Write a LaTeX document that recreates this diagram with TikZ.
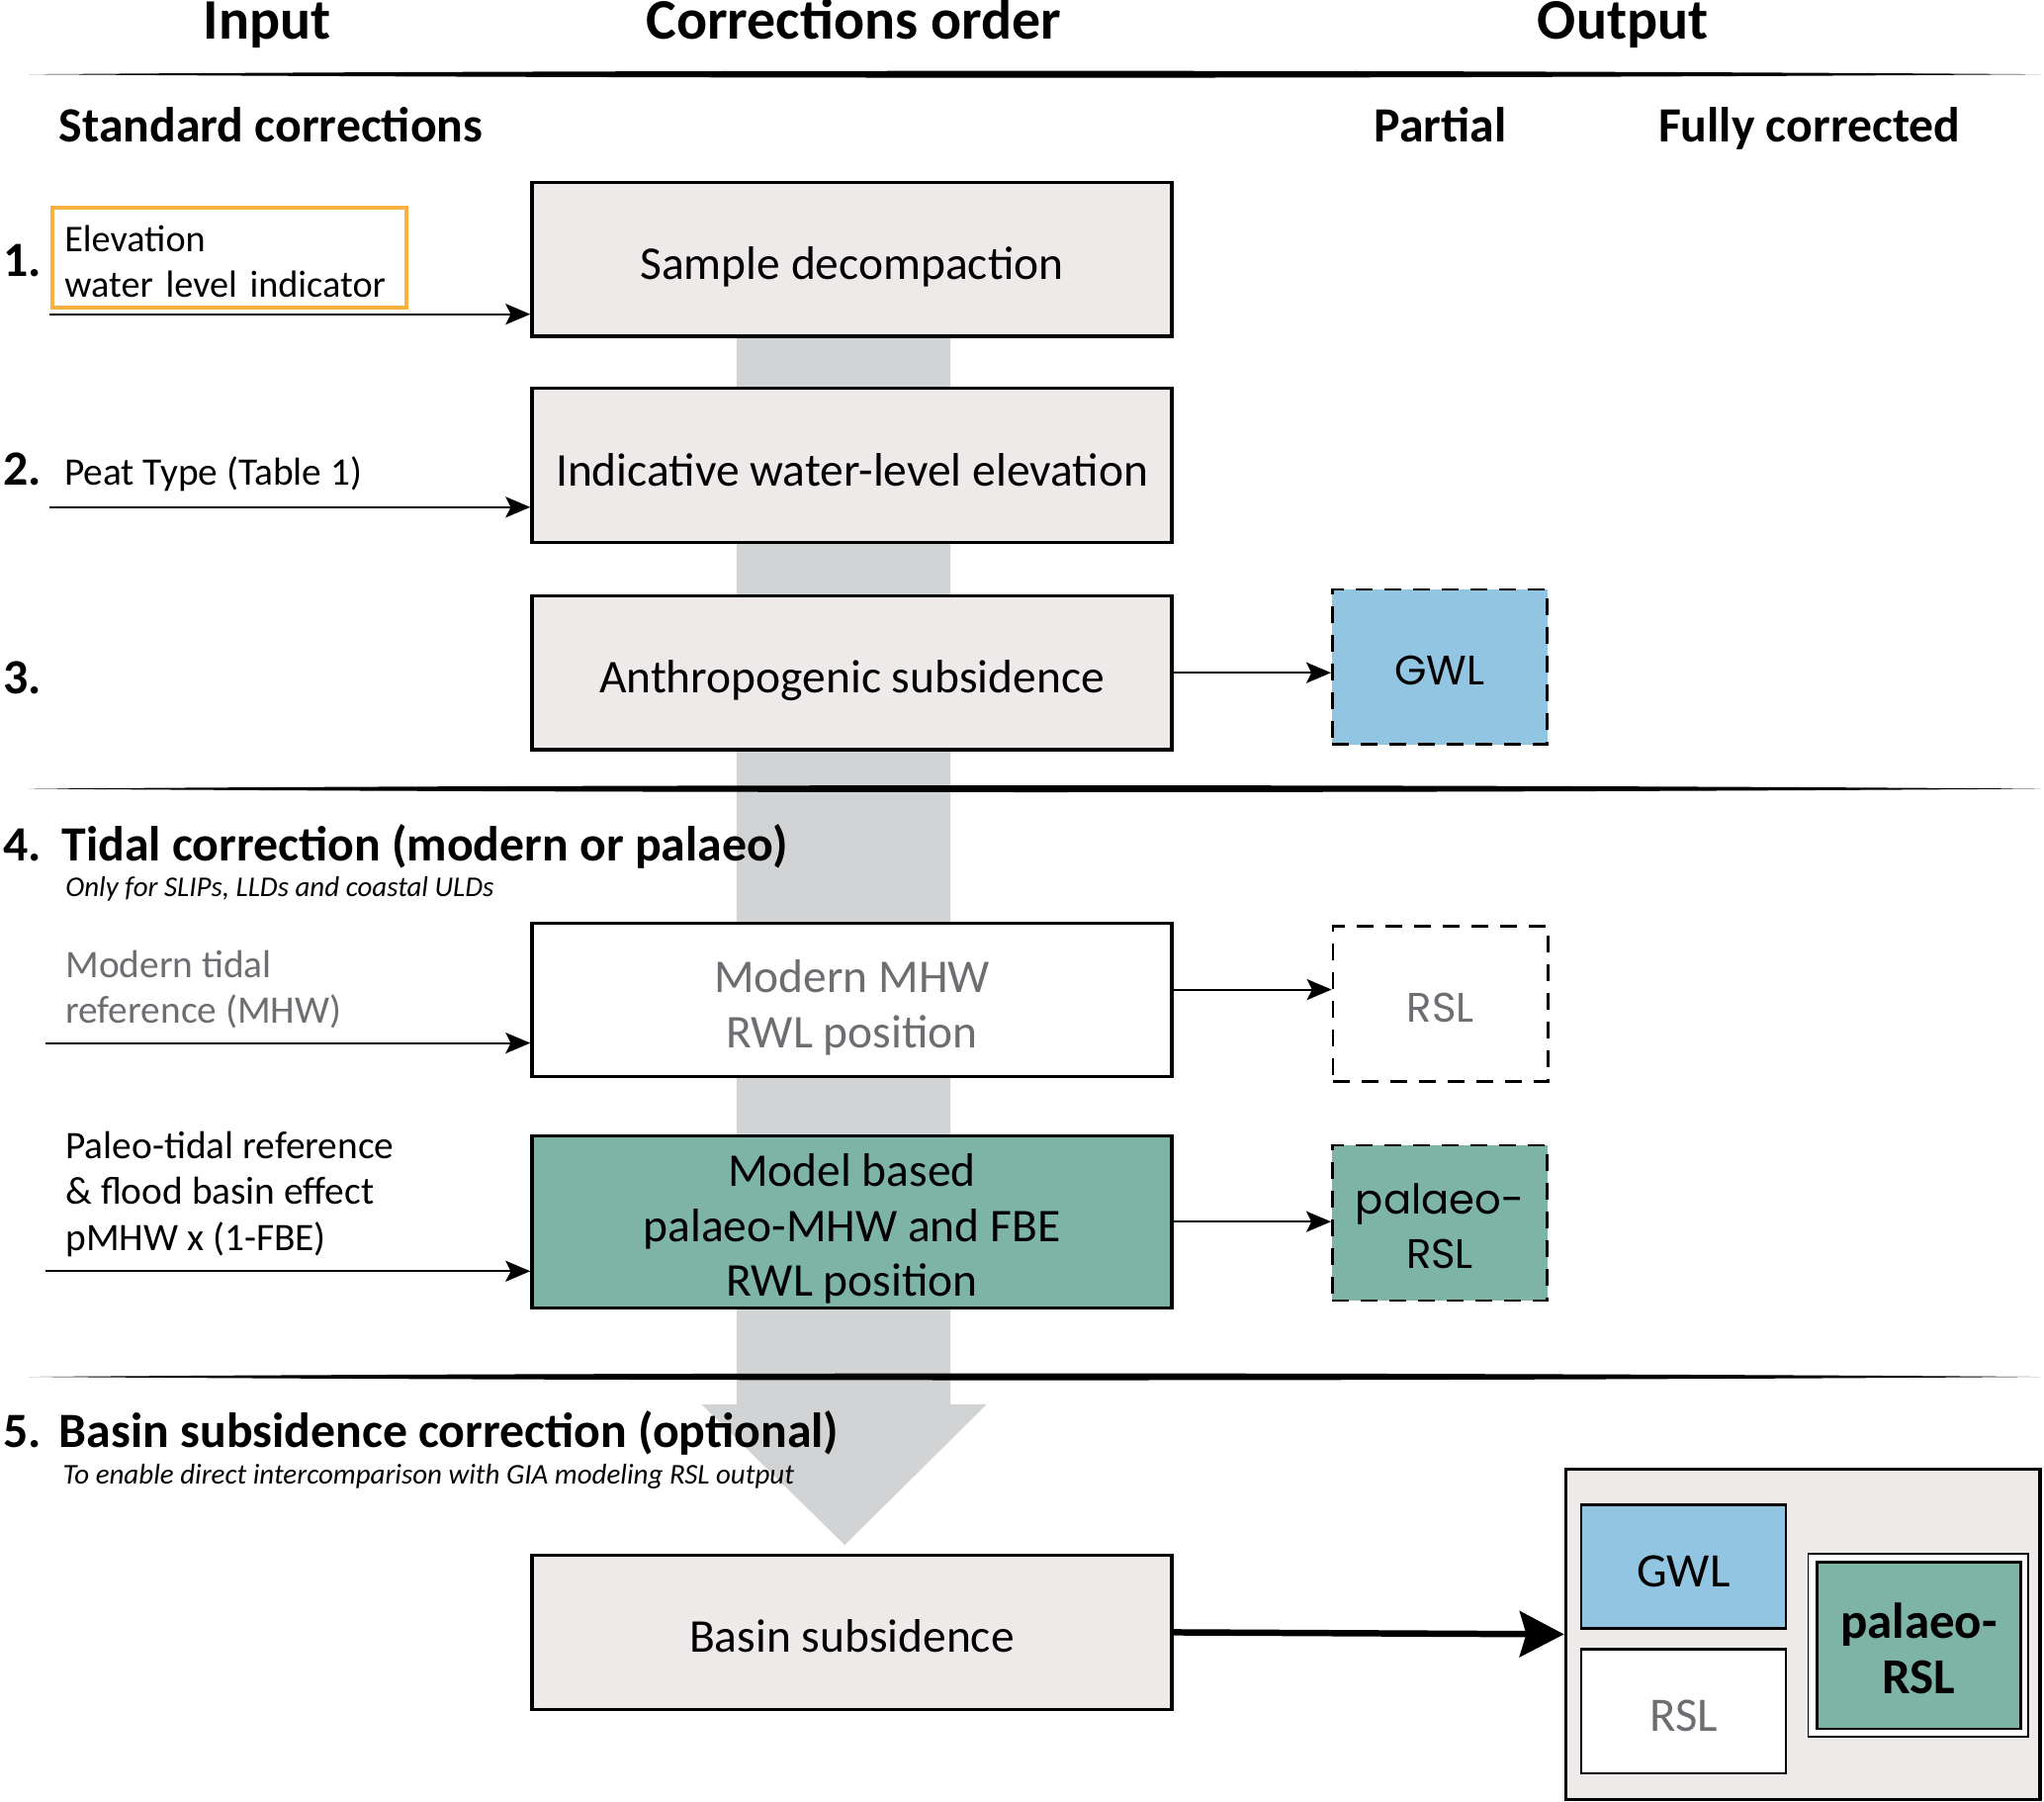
\documentclass[tikz,border=0pt]{standalone}
\usepackage{fontspec}
\setmainfont{Carlito}
\newfontfamily\geofont{Poppins}
\usepackage{xcolor}
\usetikzlibrary{arrows.meta}

\definecolor{boxgrey}{HTML}{EDEAE9}
\definecolor{shaftgrey}{HTML}{D1D3D4}
\definecolor{gwlblue}{HTML}{91C5E1}
\definecolor{palgreen}{HTML}{7DB4A6}
\definecolor{elevorange}{HTML}{FBB040}
\definecolor{softtext}{HTML}{6D6E71}

\tikzset{
  corrbox/.style={draw, line width=1.4pt, fill=boxgrey, minimum width=9.82cm,
    minimum height=2.36cm, inner sep=0pt, align=center, text height=0.62cm, text depth=0cm,
    font=\fontsize{20.5}{24}\selectfont},
  partbox/.style={draw, line width=1.1pt, dash pattern=on 0.26cm off 0.18cm,
    minimum width=3.3cm, minimum height=2.38cm, inner sep=0pt, align=center,
    text height=0.55cm, text depth=0cm, font=\geofont\fontsize{18}{24}\selectfont},
  fullbox/.style={draw, line width=1.1pt, minimum width=3.14cm, minimum height=1.9cm,
    inner sep=0pt, text height=0.62cm, text depth=0cm, font=\fontsize{21}{24}\selectfont},
  colhead/.style={anchor=base, font=\bfseries\fontsize{25}{30}\selectfont},
  subhead/.style={anchor=base west, inner sep=0pt, font=\bfseries\fontsize{21.5}{26}\selectfont},
  stepnum/.style={anchor=base west, inner sep=0pt, font=\bfseries\fontsize{21.5}{26}\selectfont},
  intext/.style={anchor=base west, inner sep=0pt, align=left, font=\fontsize{17}{20}\selectfont},
  note/.style={anchor=base west, inner sep=0pt, font=\itshape\fontsize{12.5}{15}\selectfont},
  inarrow/.style={->, line width=0.9pt},
}

\begin{document}
\begin{tikzpicture}[x=0.02cm, y=-0.02cm,
    >={Stealth[length=0.38cm, width=0.32cm, inset=0.08cm]}]
  \useasboundingbox (0,0) rectangle (1568,1382);

  % column headings
  \node[colhead] (hin)  at (205,30)  {Input};
  \node[colhead] (hord) at (655,30)  {Corrections order};
  \node[colhead] (hout) at (1245,30) {Output};

  \node[subhead] (hstd) at (45,109) {Standard corrections};
  \node[colhead, font=\bfseries\fontsize{21.5}{26}\selectfont] (hpart) at (1105,109) {Partial};
  \node[colhead, font=\bfseries\fontsize{21.5}{26}\selectfont] (hfull) at (1388,109) {Fully corrected};

  % big grey arrow behind the boxes
  \fill[shaftgrey] (565,200) -- (729,200) -- (729,1077) -- (757,1077)
                   -- (648,1185) -- (538,1077) -- (565,1077) -- cycle;

  % rough separators
  \foreach \y in {57,605,1056}
    \fill (22,\y) .. controls (500,\y-3.5) and (1100,\y-3.5) .. (1565,\y)
                  .. controls (1100,\y+3.5) and (500,\y+3.5) .. cycle;

  % corrections
  \node[corrbox] (s1) at (653.5,199)  {Sample decompaction};
  \node[corrbox] (s2) at (653.5,357)  {Indicative water-level elevation};
  \node[corrbox] (s3) at (653.5,516)  {Anthropogenic subsidence};
  \node[corrbox, fill=white, text=softtext, text height=1.46cm] (s4) at (653.5,767)
    {Modern MHW\\RWL position};
  \node[corrbox, fill=palgreen, minimum height=2.64cm, text height=2.3cm] (s5) at (653.5,937)
    {Model based\\palaeo-MHW and FBE\\RWL position};
  \node[corrbox] (s6) at (653.5,1252) {Basin subsidence};

  % step numbers
  \node[stepnum] (n1) at (2,212)  {1.};
  \node[stepnum] (n2) at (2,372)  {2.};
  \node[stepnum] (n3) at (2,532)  {3.};
  \node[stepnum] (n4) at (2,660)  {4.};
  \node[stepnum] (n5) at (2,1110) {5.};

  % inputs
  \node[draw=elevorange, line width=1.7pt, minimum width=5.44cm, minimum height=1.54cm,
        text width=5.06cm, inner xsep=0.19cm, inner ysep=0pt, align=left,
        text height=0.53cm,
        font=\fontsize{16.5}{20}\selectfont] (elev) at (176,197.5)
        {Elevation\\water level indicator};
  \node[intext] (peat) at (49,372) {Peat Type (Table 1)};
  \node[subhead] (tidal) at (47,660) {Tidal correction (modern or palaeo)};
  \node[note] (tidalnote) at (50,688) {Only for SLIPs, LLDs and coastal ULDs};
  \node[intext, text=softtext] (mod) at (50,785) {Modern tidal\\reference (MHW)};
  \node[intext] (paleo) at (50,959) {Paleo-tidal reference\\\& flood basin effect\\pMHW x (1-FBE)};
  \node[subhead] (basin) at (45,1110) {Basin subsidence correction (optional)};
  \node[note] (basinnote) at (48,1138) {To enable direct intercomparison with GIA modeling RSL output};

  \coordinate (in1) at (38,241);
  \coordinate (in2) at (38,389);
  \coordinate (in4) at (35,800);
  \coordinate (in5) at (35,975);
  \draw[inarrow] (in1) -- (in1 -| s1.west);
  \draw[inarrow] (in2) -- (in2 -| s2.west);
  \draw[inarrow] (in4) -- (in4 -| s4.west);
  \draw[inarrow] (in5) -- (in5 -| s5.west);

  % partial outputs
  \node[partbox, fill=gwlblue] (gwl) at (1104.5,511.5) {GWL};
  \node[partbox, text=softtext, fill=white] (rsl) at (1105,770) {RSL};
  \node[partbox, fill=palgreen, text height=1.4cm] (prsl) at (1104.5,938) {palaeo-\\RSL};

  \draw[inarrow] (s3.east) -- (s3.east -| gwl.west);
  \draw[inarrow] ([yshift=0.16cm]s4.east) -- ([yshift=0.16cm]s4.east -| rsl.west);
  \draw[inarrow] (s5.east) -- (s5.east -| prsl.west);

  % fully corrected
  \node[draw, line width=1.4pt, fill=boxgrey, minimum width=7.28cm, minimum height=5.06cm]
    (final) at (1383,1253.5) {};
  \node[fullbox, fill=gwlblue] (fgwl) at (1291.5,1201.5) {GWL};
  \node[fullbox, fill=white, text=softtext] (frsl) at (1291.5,1312.5) {RSL};
  \node[draw, line width=0.8pt, fill=white, minimum width=3.38cm, minimum height=2.8cm]
    (fpalout) at (1471.5,1262) {};
  \node[fullbox, fill=palgreen, minimum width=3.12cm, minimum height=2.56cm, align=center,
        text height=1.48cm, font=\bfseries\fontsize{22}{24}\selectfont] (fpal) at (1472,1262)
        {palaeo-\\RSL};

  \draw[->, line width=2.8pt, >={Stealth[length=0.68cm, width=0.7cm, inset=0.1cm]}]
    (s6.east) -- (final.west);
\end{tikzpicture}
\end{document}
